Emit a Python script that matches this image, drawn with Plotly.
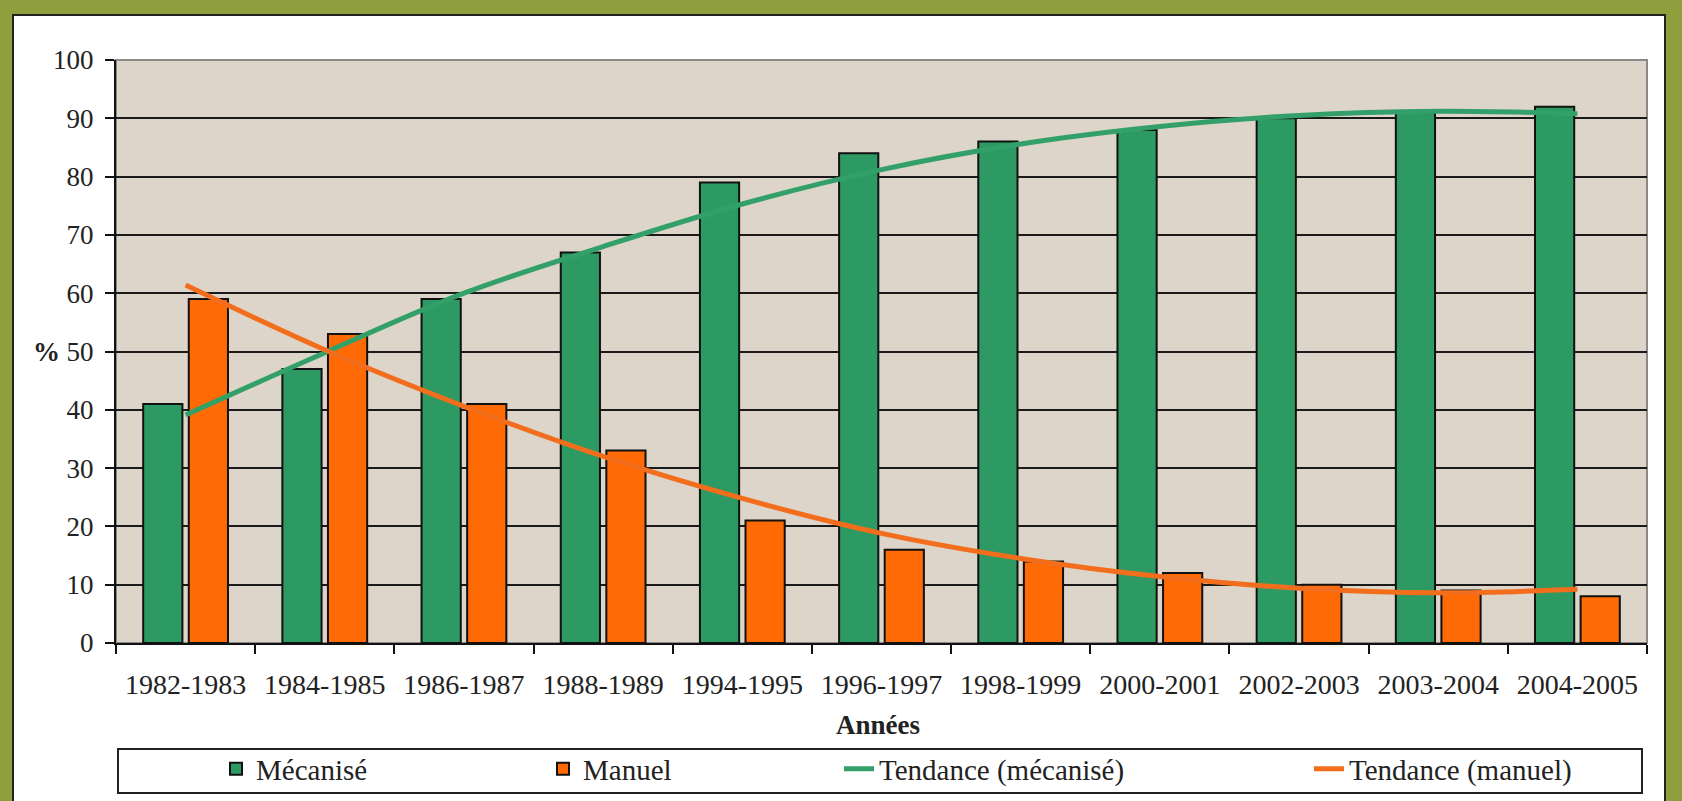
import plotly.graph_objects as go

categories = ["1982-1983", "1984-1985", "1986-1987", "1988-1989", "1994-1995",
              "1996-1997", "1998-1999", "2000-2001", "2002-2003", "2003-2004", "2004-2005"]
mecanise = [41, 47, 59, 67, 79, 84, 86, 88, 90, 91, 92]
manuel = [59, 53, 41, 33, 21, 16, 14, 12, 10, 9, 8]
tendance_mecanise = [39.1, 49.8, 60.0, 68.0, 75.3, 81.2, 85.6, 88.6, 90.5, 91.2, 90.8]
tendance_manuel = [61.4, 50.3, 40.6, 32.0, 24.8, 18.8, 14.5, 11.4, 9.4, 8.6, 9.2]
y_ticks = [0, 10, 20, 30, 40, 50, 60, 70, 80, 90, 100]

W, H = 1682, 801
L, R, T, B = 116, 1647, 60, 643

def px(x):
    return (x - L) / (R - L)

def py(y):
    return (B - y) / (B - T)

FONT = "Liberation Serif, Times New Roman, serif"
GREEN = "#2e9a63"
ORANGE = "#ff6a05"
OLIVE = "#8f9f3e"

fig = go.Figure()
fig.add_trace(go.Bar(x=categories, y=mecanise, name="Mécanisé", showlegend=True,
                     marker=dict(color=GREEN, line=dict(color="#111111", width=2)),
                     legend="legend"))
fig.add_trace(go.Bar(x=categories, y=manuel, name="Manuel", showlegend=True,
                     marker=dict(color=ORANGE, line=dict(color="#111111", width=2)),
                     legend="legend2"))
fig.add_trace(go.Scatter(x=categories, y=tendance_mecanise, name="Tendance (mécanisé)",
                         mode="lines", showlegend=True,
                         line=dict(color="#33a06a", width=5, shape="spline"),
                         legend="legend3"))
fig.add_trace(go.Scatter(x=categories, y=tendance_manuel, name="Tendance (manuel)",
                         mode="lines", showlegend=True,
                         line=dict(color="#f26d1c", width=5, shape="spline"),
                         legend="legend4"))

shapes = [
    # white chart area with black border
    dict(type="rect", xref="paper", yref="paper", layer="below",
         x0=px(13), x1=px(1665), y0=py(15), y1=py(830),
         fillcolor="white", line=dict(color="#222222", width=2)),
    # plot area background
    dict(type="rect", xref="paper", yref="paper", layer="below",
         x0=0, x1=1, y0=0, y1=1,
         fillcolor="#ddd5ca", line=dict(color="#8a8a8a", width=2)),
    # legend box
    dict(type="rect", xref="paper", yref="paper", layer="above",
         x0=px(118), x1=px(1642), y0=py(749), y1=py(793),
         fillcolor="rgba(0,0,0,0)", line=dict(color="#222222", width=2)),
]

legend_common = dict(orientation="h", yanchor="middle", y=py(769), xanchor="left",
                     bgcolor="rgba(0,0,0,0)", borderwidth=0,
                     font=dict(family=FONT, size=29, color="#222222"))

fig.update_layout(
    width=W, height=H,
    margin=dict(l=L, r=W - R, t=T, b=H - B, pad=0, autoexpand=False),
    paper_bgcolor=OLIVE,
    plot_bgcolor="rgba(0,0,0,0)",
    showlegend=True,
    barmode="group",
    bargap=0.345,
    bargroupgap=0.14,
    font=dict(family=FONT, size=27, color="#222222"),
    shapes=shapes,
    legend=dict(x=px(257 - 41), **legend_common),
    legend2=dict(x=px(584 - 41), **legend_common),
    legend3=dict(x=px(880 - 41), **legend_common),
    legend4=dict(x=px(1350 - 41), **legend_common),
    annotations=[
        dict(text="<b>%</b>", xref="paper", yref="y", x=px(62), y=50,
             xanchor="right", yanchor="middle", showarrow=False,
             font=dict(family=FONT, size=27, color="#222222")),
        dict(text="<b>Années</b>", xref="paper", yref="paper", x=0.498, y=py(725),
             xanchor="center", yanchor="middle", showarrow=False,
             font=dict(family=FONT, size=27, color="#222222")),
    ],
)

fig.update_xaxes(
    type="category", tickson="boundaries", ticks="outside", ticklen=9, tickwidth=2,
    tickcolor="#111111", showline=True, linecolor="#111111", linewidth=2,
    showgrid=False, tickfont=dict(family=FONT, size=28, color="#222222"),
    ticklabelstandoff=15,
)
fig.update_yaxes(
    range=[0, 100], tickvals=y_ticks, ticks="outside", ticklen=9, tickwidth=2,
    tickcolor="#111111", showline=True, linecolor="#111111", linewidth=2,
    showgrid=True, gridcolor="#1a1a1a", gridwidth=2, zeroline=False,
    tickfont=dict(family=FONT, size=27, color="#222222"), ticklabelstandoff=6,
)

fig.write_html(
    "out.html",
    config={"displayModeBar": False},
    post_script="document.body.style.margin='0';document.body.style.overflow='hidden';"
                "document.body.style.background='" + OLIVE + "';",
)
